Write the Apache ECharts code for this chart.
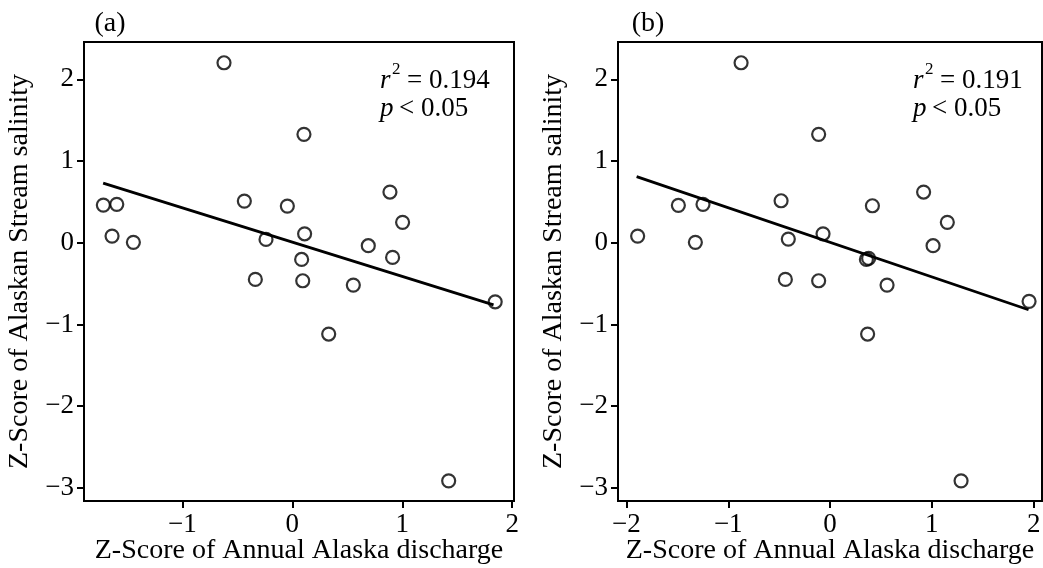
<!DOCTYPE html>
<html>
<head>
<meta charset="utf-8">
<script src="https://cdn.jsdelivr.net/npm/echarts@6/dist/echarts.min.js"></script>
<style>
html,body{margin:0;padding:0;background:#fff;}
#chart{width:1043px;height:568px;}
</style>
</head>
<body>
<div id="chart"></div>
<script>
// ---- data ----
const salinityA = [2.203, 1.327, 0.461, 0.470, 0.082, 0.005, 0.510, 0.449, 0.041, 0.110, -0.204, 0.621, 0.250, -0.036, -0.179, -0.448, -0.465, -1.117, -0.518, -0.722, -2.913];
const dischargeA = [-0.621, 0.106, -1.718, -1.596, -1.639, -1.445, -0.436, -0.045, -0.239, 0.112, 0.085, 0.888, 1.003, 0.691, 0.912, -0.336, 0.095, 0.331, 0.555, 1.845, 1.422];

const salinityB = [2.203, 1.327, 0.082, 0.458, 0.470, 0.005, 0.514, 0.045, 0.110, 0.621, 0.453, 0.250, -0.036, -0.191, -0.204, -0.448, -0.465, -0.518, -1.117, -0.717, -2.913];
const dischargeB = [-0.874, -0.112, -1.890, -1.490, -1.248, -1.323, -0.481, -0.410, -0.069, 0.919, 0.416, 1.152, 1.012, 0.379, 0.357, -0.439, -0.112, 0.560, 0.369, 1.955, 1.287];

// regression line end points (x, y)
const fitLineA = [[-1.72, 0.73], [1.83, -0.76]];
const fitLineB = [[-1.90, 0.81], [1.95, -0.82]];

const xTicksA = [-1, 0, 1, 2];
const xTicksB = [-2, -1, 0, 1, 2];
const yTicks = [-3, -2, -1, 0, 1, 2];

const statsA = { r2: '0.194', p: '0.05' };
const statsB = { r2: '0.191', p: '0.05' };

const xTitle = 'Z-Score of Annual Alaska discharge';
const yTitle = 'Z-Score of Alaskan Stream salinity';
const panelLabels = ['(a)', '(b)'];

// ---- chart ----
const FONT = 'Liberation Serif';
const fmt = v => (v < 0 ? '\u2212' + Math.abs(v) : String(v));

function xAxis(gi, ticks, min, max) {
  return {
    type: 'value', gridIndex: gi, min: min, max: max,
    name: xTitle, nameLocation: 'middle', nameGap: 36, nameMoveOverlap: false,
    nameTextStyle: { fontFamily: FONT, fontSize: 28, color: '#000' },
    axisLine: { show: true, onZero: false, lineStyle: { color: '#000', width: 2 } },
    axisTick: { show: true, inside: false, length: 7, lineStyle: { color: '#000', width: 2 }, customValues: ticks },
    axisLabel: { show: true, margin: 10, fontFamily: FONT, fontSize: 27, color: '#000', customValues: ticks, formatter: fmt },
    splitLine: { show: false }
  };
}
function yAxis(gi, ticks) {
  return {
    type: 'value', gridIndex: gi, min: -3.16, max: 2.457,
    name: yTitle, nameLocation: 'middle', nameGap: 50,
    nameTextStyle: { fontFamily: FONT, fontSize: 28, color: '#000' },
    axisLine: { show: true, onZero: false, lineStyle: { color: '#000', width: 2 } },
    axisTick: { show: true, inside: false, length: 7, lineStyle: { color: '#000', width: 2 }, customValues: ticks },
    axisLabel: { show: true, margin: 10, fontFamily: FONT, fontSize: 27, color: '#000', customValues: ticks, formatter: fmt },
    splitLine: { show: false }
  };
}
function scatter(gi, xs, ys) {
  return {
    type: 'scatter', xAxisIndex: gi, yAxisIndex: gi,
    data: xs.map((x, i) => [x, ys[i]]),
    symbol: 'circle', symbolSize: 13,
    itemStyle: { color: 'rgba(255,255,255,0)', borderColor: '#000', borderWidth: 2.2 },
    emphasis: { disabled: true }, z: 3
  };
}
function fit(gi, pts) {
  return {
    type: 'line', xAxisIndex: gi, yAxisIndex: gi, data: pts,
    showSymbol: false, symbol: 'none',
    lineStyle: { color: '#000', width: 2.8 },
    emphasis: { disabled: true }, z: 2
  };
}
function statText(x0, st) {
  const ts = (t, x, y, size, italic, align) => ({
    type: 'text', x: x, y: y, z: 10,
    style: { text: t, fontFamily: FONT, fontSize: size, fontStyle: italic ? 'italic' : 'normal', fill: '#000', align: align || 'left', verticalAlign: 'middle' }
  });
  return [
    ts('r', x0, 81, 27, true),
    ts('2', x0 + 12, 70, 17, false),
    ts('= ' + st.r2, x0 + 27, 81, 27, false),
    ts('p', x0, 109, 27, true),
    ts('< ' + st.p, x0 + 19, 109, 27, false)
  ];
}

const gridBase = { top: 42, height: 459, show: true, borderColor: '#000', borderWidth: 2, backgroundColor: 'transparent', containLabel: false, outerBoundsMode: 'none' };

const option = {
  animation: false,
  backgroundColor: '#fff',
  grid: [
    Object.assign({ left: 84, width: 430 }, gridBase),
    Object.assign({ left: 618, width: 424 }, gridBase)
  ],
  xAxis: [xAxis(0, xTicksA, -1.894, 2.016), xAxis(1, xTicksB, -2.083, 2.082)],
  yAxis: [yAxis(0, yTicks), yAxis(1, yTicks)],
  series: [
    fit(0, fitLineA), scatter(0, dischargeA, salinityA),
    fit(1, fitLineB), scatter(1, dischargeB, salinityB)
  ],
  graphic: [
    { type: 'text', x: 110, y: 24, style: { text: panelLabels[0], fontFamily: FONT, fontSize: 28, fill: '#000', align: 'center', verticalAlign: 'middle' } },
    { type: 'text', x: 648, y: 24, style: { text: panelLabels[1], fontFamily: FONT, fontSize: 28, fill: '#000', align: 'center', verticalAlign: 'middle' } }
  ].concat(statText(380, statsA), statText(913, statsB))
};

const chart = echarts.init(document.getElementById('chart'), null, { renderer: 'canvas' });
chart.setOption(option);
</script>
</body>
</html>
